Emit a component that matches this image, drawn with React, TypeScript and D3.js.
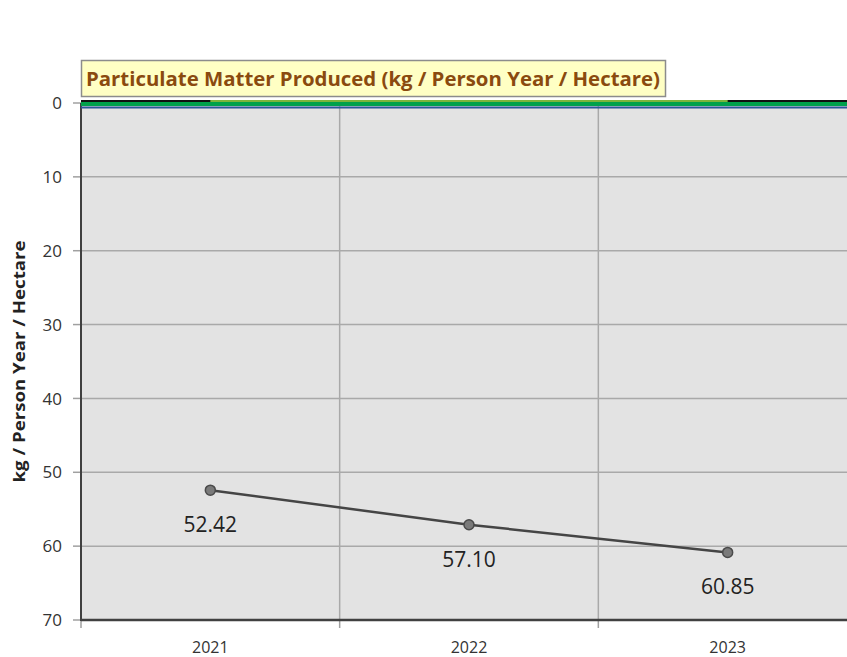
import React from "react";
import * as d3 from "d3";

// Chart data
const years = ["2021", "2022", "2023"];
const pmValues = [52.42, 57.1, 60.85];
const yTicks = [0, 10, 20, 30, 40, 50, 60, 70];
const chartTitle = "Particulate Matter Produced (kg / Person Year / Hectare)";
const yAxisTitle = "kg / Person Year / Hectare";

const W = 847;
const H = 657;
const plot = { left: 81, right: 857, top: 103, bottom: 620 };
const FONT = "'Open Sans', 'Liberation Sans', sans-serif";

export default function App() {
  const x = d3
    .scaleBand<string>()
    .domain(years)
    .range([plot.left, plot.right])
    .paddingInner(0)
    .paddingOuter(0);
  const y = d3.scaleLinear().domain([0, 70]).range([plot.top, plot.bottom]);
  const cx = (d: string) => (x(d) as number) + x.bandwidth() / 2;

  const line = d3
    .line<number>()
    .x((_, i) => cx(years[i]))
    .y((v) => y(v));

  const boundaries = years.map((d) => x(d) as number).concat([plot.right]);
  const y0 = y(0);

  return (
    <div style={{ position: "absolute", left: 0, top: 0 }}>
      <svg width={W} height={H} style={{ display: "block" }}>
        <rect x={0} y={0} width={W} height={H} fill="#ffffff" />
        {/* plot background */}
        <rect
          x={plot.left}
          y={plot.top}
          width={plot.right - plot.left}
          height={plot.bottom - plot.top}
          fill="#e3e3e3"
        />
        {/* horizontal gridlines */}
        {yTicks.slice(1, -1).map((t) => (
          <line
            key={"h" + t}
            x1={plot.left}
            x2={plot.right}
            y1={y(t)}
            y2={y(t)}
            stroke="#a9a9a9"
            strokeWidth={1.5}
          />
        ))}
        {/* vertical gridlines at category boundaries */}
        {boundaries.slice(1).map((b, i) => (
          <line
            key={"v" + i}
            x1={b}
            x2={b}
            y1={plot.top}
            y2={plot.bottom}
            stroke="#a9a9a9"
            strokeWidth={1.5}
          />
        ))}
        {/* y ticks */}
        {yTicks.map((t) => (
          <g key={"yt" + t}>
            <line x1={plot.left - 8} x2={plot.left} y1={y(t)} y2={y(t)} stroke="#a0a0a0" strokeWidth={1.5} />
            <text
              x={62}
              y={y(t)}
              dy="0.36em"
              textAnchor="end"
              fontFamily={FONT}
              fontSize={17}
              fill="#333333"
            >
              {t}
            </text>
          </g>
        ))}
        {/* x ticks */}
        {boundaries.map((b, i) => (
          <line key={"xt" + i} x1={b} x2={b} y1={plot.bottom} y2={plot.bottom + 8} stroke="#a0a0a0" strokeWidth={1.5} />
        ))}
        {years.map((d) => (
          <text
            key={"xl" + d}
            x={cx(d)}
            y={653}
            textAnchor="middle"
            fontFamily={FONT}
            fontSize={16}
            fill="#333333"
          >
            {d}
          </text>
        ))}
        {/* axis lines */}
        <line x1={plot.left} x2={plot.left} y1={plot.top} y2={plot.bottom + 1} stroke="#404040" strokeWidth={2} />
        <line x1={plot.left} x2={plot.right} y1={plot.bottom} y2={plot.bottom} stroke="#404040" strokeWidth={2.5} />

        {/* reference lines at zero */}
        <line x1={plot.left} x2={plot.right} y1={y0 - 2} y2={y0 - 2} stroke="#111111" strokeWidth={2} />
        <line x1={cx(years[0])} x2={cx(years[years.length - 1])} y1={y0 - 2} y2={y0 - 2} stroke="#7db43c" strokeWidth={2} />
        <line x1={plot.left} x2={plot.right} y1={y0 + 1} y2={y0 + 1} stroke="#00a14b" strokeWidth={4} />
        <line x1={plot.left} x2={plot.right} y1={y0 + 4.5} y2={y0 + 4.5} stroke="#2b5797" strokeWidth={2} />

        {/* data series */}
        <path d={line(pmValues) || ""} fill="none" stroke="#454545" strokeWidth={2.5} />
        {pmValues.map((v, i) => (
          <circle
            key={"p" + i}
            cx={cx(years[i])}
            cy={y(v)}
            r={5}
            fill="#7a7a7a"
            stroke="#4a4a4a"
            strokeWidth={1.5}
          />
        ))}
        {pmValues.map((v, i) => (
          <text
            key={"l" + i}
            x={cx(years[i])}
            y={y(v) + 42}
            textAnchor="middle"
            fontFamily={FONT}
            fontSize={21}
            fill="#222222"
          >
            {v.toFixed(2)}
          </text>
        ))}

        {/* y-axis title */}
        <text
          transform={`translate(25, ${(plot.top + plot.bottom) / 2}) rotate(-90)`}
          textAnchor="middle"
          fontFamily={FONT}
          fontWeight="bold"
          fontSize={16}
          fill="#222222"
          textLength={242}
          lengthAdjust="spacingAndGlyphs"
        >
          {yAxisTitle}
        </text>

        {/* chart title */}
        <rect x={81.5} y={60.5} width={584} height={36} fill="#ffffc4" stroke="#8c8c8c" strokeWidth={1.5} />
        <text
          x={86}
          y={86}
          fontFamily={FONT}
          fontWeight="bold"
          fontSize={20}
          fill="#8a4a0f"
          textLength={574}
          lengthAdjust="spacingAndGlyphs"
        >
          {chartTitle}
        </text>
      </svg>
    </div>
  );
}
